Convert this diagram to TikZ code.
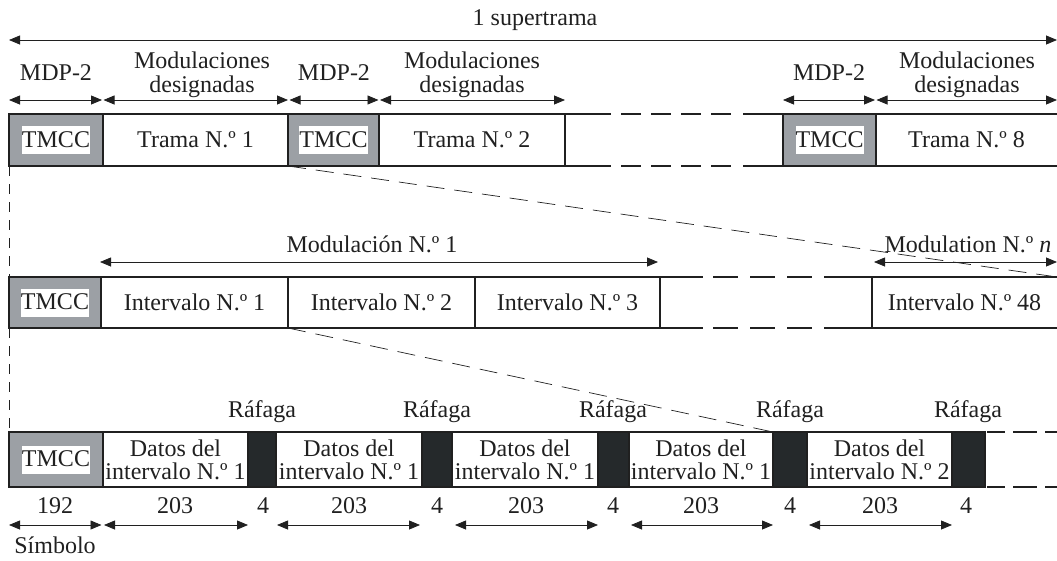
\documentclass[tikz,border=0pt]{standalone}
\usepackage{fontspec}
\setmainfont{Liberation Serif}
\usetikzlibrary{arrows.meta}
\definecolor{ink}{HTML}{202020}
\definecolor{tgray}{HTML}{9CA0A5}
\definecolor{burstc}{HTML}{25292B}
\begin{document}
\begin{tikzpicture}[x=1pt,y=-1pt, font=\fontsize{24}{23}\selectfont, text=ink,
  cell/.style={draw=ink, line width=1.8pt, inner sep=0pt, outer sep=0pt, anchor=north west, align=center},
  ocell/.style={inner sep=0pt, outer sep=0pt, anchor=north west, align=center},
  tmccbox/.style={cell, fill=tgray},
  burst/.style={cell, fill=burstc},
  tlabel/.style={fill=white, inner xsep=0pt, inner ysep=1pt, text height=20pt, text depth=6pt},
  tip/.tip={Triangle[length=11pt,width=9pt]},
  dim/.style={draw=ink, line width=0.8pt, tip-tip},
  edgeline/.style={draw=ink, line width=1.8pt},
  guide/.style={draw=ink, line width=0.7pt, dash pattern=on 18pt off 10pt},
  vguide/.style={draw=ink, line width=0.7pt, dash pattern=on 10pt off 8pt},
  lbl/.style={inner sep=0pt, anchor=base},
  mlbl/.style={inner sep=0pt, align=center, font=\fontsize{24}{24}\selectfont}
]
\useasboundingbox (0,0) rectangle (1057,560);

% ---------- Row 1 ----------
\node[tmccbox, minimum width=94pt, minimum height=52pt] (tm1) at (9,114) {};
\node[cell, minimum width=185pt, minimum height=52pt] (tr1) at (103,114) {Trama N.º 1};
\node[tmccbox, minimum width=91pt, minimum height=52pt] (tm2) at (288,114) {};
\node[cell, minimum width=186pt, minimum height=52pt] (tr2) at (379,114) {Trama N.º 2};
\node[tmccbox, minimum width=93pt, minimum height=52pt] (tm8) at (783,114) {};
\node[ocell, minimum width=181pt, minimum height=52pt] (tr8) at (876,114) {Trama N.º 8};
\node[tlabel] (tl1) at (tm1.center) {TMCC};
\node[tlabel] (tl2) at (tm2.center) {TMCC};
\node[tlabel] (tl8) at (tm8.center) {TMCC};
\draw[edgeline] (tr8.north west) -- (tr8.north east);
\draw[edgeline] (tr8.south west) -- (tr8.south east);
\draw[edgeline, dash pattern=on 46pt off 10pt on 20pt off 10pt on 20pt off 10pt on 20pt off 10pt on 20pt off 12pt on 40pt] (tr2.north east) -- (tm8.north west);
\draw[edgeline, dash pattern=on 46pt off 10pt on 20pt off 10pt on 20pt off 10pt on 20pt off 10pt on 20pt off 12pt on 40pt] (tr2.south east) -- (tm8.south west);

% top dimension
\node[lbl] (sup) at (535,25) {1 supertrama};
\coordinate (supL) at (9,40);
\coordinate (supR) at (1057,40);
\draw[dim] (supL) -- (supR);

% row 1 dimensions
\coordinate (a1) at (9,100);   \coordinate (a2) at (102,100);
\coordinate (a3) at (103.5,100); \coordinate (a4) at (288,100);
\coordinate (a5) at (289.5,100); \coordinate (a6) at (378.5,100);
\coordinate (a7) at (380,100); \coordinate (a8) at (565,100);
\coordinate (a9) at (783,100); \coordinate (a10) at (875,100);
\coordinate (a11) at (876.5,100); \coordinate (a12) at (1057,100);
\draw[dim] (a1) -- (a2);
\draw[dim] (a3) -- (a4);
\draw[dim] (a5) -- (a6);
\draw[dim] (a7) -- (a8);
\draw[dim] (a9) -- (a10);
\draw[dim] (a11) -- (a12);
\node[lbl] (m1) at (56,80) {MDP-2};
\node[lbl] (m2) at (334,80) {MDP-2};
\node[lbl] (m3) at (829,80) {MDP-2};
\node[mlbl] (md1) at (202,74.5) {Modulaciones\\designadas};
\node[mlbl] (md2) at (472,74.5) {Modulaciones\\designadas};
\node[mlbl] (md3) at (967,74.5) {Modulaciones\\designadas};

% ---------- Row 2 ----------
\node[tmccbox, minimum width=92pt, minimum height=51pt] (tmB) at (9,277) {};
\node[tlabel] (tlB) at (tmB.center) {TMCC};
\node[cell, minimum width=187pt, minimum height=51pt] (i1) at (101,277) {Intervalo N.º 1};
\node[cell, minimum width=187pt, minimum height=51pt] (i2) at (288,277) {Intervalo N.º 2};
\node[cell, minimum width=185pt, minimum height=51pt] (i3) at (475,277) {Intervalo N.º 3};
\node[ocell, minimum width=185pt, minimum height=51pt] (i48) at (872,277) {Intervalo N.º 48};
\draw[edgeline] (i48.north east) -- (i48.north west) -- (i48.south west) -- (i48.south east);
\draw[edgeline, dash pattern=on 43pt off 10pt on 25pt off 12pt on 25pt off 12pt on 25pt off 12pt on 48pt] (i3.north east) -- (i48.north west);
\draw[edgeline, dash pattern=on 43pt off 10pt on 25pt off 12pt on 25pt off 12pt on 25pt off 12pt on 48pt] (i3.south east) -- (i48.south west);

\node[lbl] (mod1) at (372,252) {Modulación N.º 1};
\coordinate (b1L) at (100,262); \coordinate (b1R) at (658,262);
\draw[dim] (b1L) -- (b1R);
\node[lbl] (modn) at (968,252) {Modulation N.º \textit{n}};
\coordinate (bnL) at (874,262); \coordinate (bnR) at (1057,262);
\draw[dim] (bnL) -- (bnR);

% ---------- Row 3 ----------
\node[tmccbox, minimum width=94pt, minimum height=55pt] (tmC) at (9,432) {};
\node[tlabel] (tlC) at (tmC.center) {TMCC};
\node[cell, minimum width=145pt, minimum height=55pt] (d1) at (103,432) {Datos del\\intervalo N.º 1};
\node[burst, minimum width=28pt, minimum height=55pt] (r1) at (248,432) {};
\node[cell, minimum width=146pt, minimum height=55pt] (d2) at (276,432) {Datos del\\intervalo N.º 1};
\node[burst, minimum width=30pt, minimum height=55pt] (r2) at (422,432) {};
\node[cell, minimum width=146pt, minimum height=55pt] (d3) at (452,432) {Datos del\\intervalo N.º 1};
\node[burst, minimum width=31pt, minimum height=55pt] (r3) at (598,432) {};
\node[cell, minimum width=144pt, minimum height=55pt] (d4) at (629,432) {Datos del\\intervalo N.º 1};
\node[burst, minimum width=34pt, minimum height=55pt] (r4) at (773,432) {};
\node[cell, minimum width=145pt, minimum height=55pt] (d5) at (807,432) {Datos del\\intervalo N.º 2};
\node[burst, minimum width=33pt, minimum height=55pt] (r5) at (952,432) {};
\coordinate (t3e) at (1057,432);
\coordinate (b3e) at (1057,487);
\draw[edgeline, dash pattern=on 0pt off 2pt on 18pt off 8pt on 24pt off 8pt on 20pt] (r5.north east) -- (t3e);
\draw[edgeline, dash pattern=on 0pt off 2pt on 18pt off 8pt on 24pt off 8pt on 20pt] (r5.south east) -- (b3e);

\node[lbl] (f1) at (262,417) {Ráfaga};
\node[lbl] (f2) at (437,417) {Ráfaga};
\node[lbl] (f3) at (613,417) {Ráfaga};
\node[lbl] (f4) at (790,417) {Ráfaga};
\node[lbl] (f5) at (968,417) {Ráfaga};

% numbers
\node[lbl] (n0) at (55,513) {192};
\node[lbl] (n1) at (175,513) {203};
\node[lbl] (q1) at (263,513) {4};
\node[lbl] (n2) at (349,513) {203};
\node[lbl] (q2) at (437,513) {4};
\node[lbl] (n3) at (526,513) {203};
\node[lbl] (q3) at (613,513) {4};
\node[lbl] (n4) at (701,513) {203};
\node[lbl] (q4) at (790,513) {4};
\node[lbl] (n5) at (880,513) {203};
\node[lbl] (q5) at (966,513) {4};

\coordinate (c0) at (9,525);   \coordinate (c1) at (101.5,525);
\coordinate (c2) at (104,525); \coordinate (c3) at (248,525);
\coordinate (c4) at (277,525); \coordinate (c5) at (420,525);
\coordinate (c6) at (455,525); \coordinate (c7) at (598,525);
\coordinate (c8) at (631,525); \coordinate (c9) at (773,525);
\coordinate (c10) at (809,525); \coordinate (c11) at (952,525);
\draw[dim] (c0) -- (c1);
\draw[dim] (c2) -- (c3);
\draw[dim] (c4) -- (c5);
\draw[dim] (c6) -- (c7);
\draw[dim] (c8) -- (c9);
\draw[dim] (c10) -- (c11);
\node[lbl] (sym) at (55,553) {Símbolo};

% ---------- guide lines ----------
\draw[guide] (tr1.south east) -- (i48.north east);
\draw[guide] (i1.south east) -- (d4.north east);
\draw[vguide] (tm1.south west) -- (tmB.north west);
\draw[vguide] (tmB.south west) -- (tmC.north west);
\end{tikzpicture}
\end{document}
